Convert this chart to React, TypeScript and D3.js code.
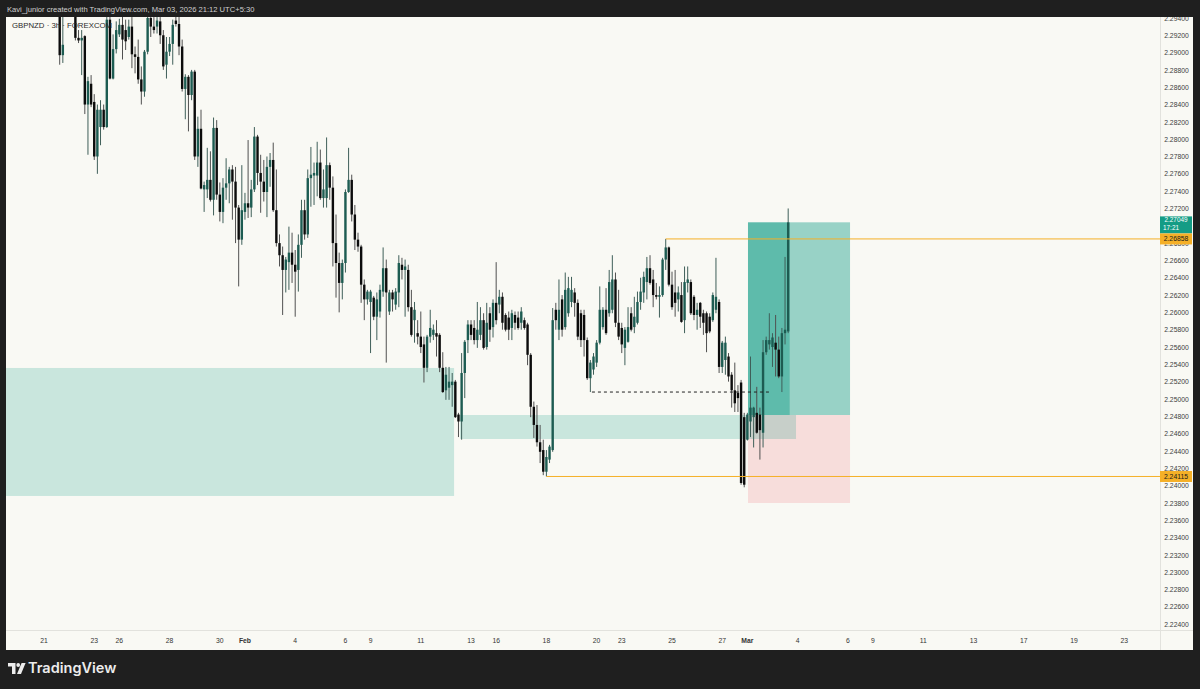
import React from 'react';
import * as d3 from 'd3';

// ---- data ----
const FIRST_BAR = 5; // bar index of the first candle (bar 0 = Jan 21 session open)

const opens = [
  2.2974, 2.2898, 2.2950, 2.2974, 2.2985, 2.2968, 2.2918, 2.2915, 2.2920, 2.2841,
  2.2865, 2.2844, 2.2781, 2.2815, 2.2835, 2.2815, 2.2939, 2.2871, 2.2905, 2.2922,
  2.2933, 2.2927, 2.2919, 2.2931, 2.2899, 2.2896, 2.2870, 2.2856, 2.2902, 2.2941,
  2.2931, 2.2931, 2.2937, 2.2921, 2.2887, 2.2902, 2.2911, 2.2938, 2.2934, 2.2908,
  2.2859, 2.2873, 2.2852, 2.2879, 2.2781, 2.2813, 2.2743, 2.2743, 2.2754, 2.2731,
  2.2814, 2.2737, 2.2717, 2.2745, 2.2750, 2.2766, 2.2752, 2.2722, 2.2685, 2.2717,
  2.2727, 2.2722, 2.2743, 2.2804, 2.2762, 2.2752, 2.2740, 2.2769, 2.2777, 2.2719,
  2.2681, 2.2667, 2.2650, 2.2659, 2.2670, 2.2656, 2.2650, 2.2679, 2.2719, 2.2691,
  2.2756, 2.2759, 2.2759, 2.2774, 2.2733, 2.2733, 2.2771, 2.2745, 2.2681, 2.2658,
  2.2635, 2.2658, 2.2740, 2.2754, 2.2714, 2.2685, 2.2677, 2.2633, 2.2616, 2.2613,
  2.2618, 2.2596, 2.2602, 2.2625, 2.2652, 2.2602, 2.2624, 2.2610, 2.2624, 2.2656,
  2.2650, 2.2650, 2.2607, 2.2592, 2.2577, 2.2573, 2.2564, 2.2537, 2.2573, 2.2575,
  2.2577, 2.2575, 2.2537, 2.2511, 2.2514, 2.2517, 2.2521, 2.2483, 2.2475, 2.2531,
  2.2569, 2.2587, 2.2583, 2.2569, 2.2575, 2.2592, 2.2561, 2.2600, 2.2584, 2.2612,
  2.2610, 2.2619, 2.2598, 2.2595, 2.2583, 2.2598, 2.2595, 2.2589, 2.2592, 2.2587,
  2.2552, 2.2492, 2.2471, 2.2451, 2.2442, 2.2417, 2.2431, 2.2442, 2.2604, 2.2581,
  2.2616, 2.2584, 2.2600, 2.2613, 2.2624, 2.2612, 2.2600, 2.2598, 2.2569, 2.2525,
  2.2535, 2.2543, 2.2566, 2.2584, 2.2604, 2.2600, 2.2604, 2.2639, 2.2589, 2.2583,
  2.2560, 2.2567, 2.2600, 2.2584, 2.2589, 2.2613, 2.2624, 2.2636, 2.2652, 2.2639,
  2.2621, 2.2619, 2.2621, 2.2662, 2.2676, 2.2633, 2.2624, 2.2616, 2.2621, 2.2592,
  2.2635, 2.2636, 2.2619, 2.2598, 2.2612, 2.2600, 2.2600, 2.2596, 2.2592, 2.2604,
  2.2613, 2.2538, 2.2546, 2.2550, 2.2529, 2.2511, 2.2508, 2.2520, 2.2480, 2.2454,
  2.2475, 2.2480, 2.2485, 2.2483, 2.2462, 2.2555, 2.2564, 2.2561, 2.2566, 2.2558,
  2.2527, 2.2577, 2.2579,
];

const highs = [
  2.2985, 2.2962, 2.2985, 2.2997, 2.2997, 2.2974, 2.2927, 2.2927, 2.2921, 2.2873,
  2.2875, 2.2853, 2.2841, 2.2846, 2.2841, 2.2944, 2.2950, 2.2922, 2.2937, 2.2940,
  2.2945, 2.2939, 2.2939, 2.2942, 2.2908, 2.2916, 2.2885, 2.2904, 2.2948, 2.2950,
  2.2942, 2.2942, 2.2942, 2.2927, 2.2919, 2.2919, 2.2939, 2.2945, 2.2942, 2.2916,
  2.2876, 2.2875, 2.2881, 2.2881, 2.2827, 2.2835, 2.2752, 2.2791, 2.2787, 2.2826,
  2.2823, 2.2751, 2.2756, 2.2779, 2.2769, 2.2771, 2.2769, 2.2725, 2.2771, 2.2739,
  2.2800, 2.2754, 2.2815, 2.2806, 2.2783, 2.2777, 2.2781, 2.2785, 2.2797, 2.2766,
  2.2691, 2.2677, 2.2665, 2.2700, 2.2693, 2.2673, 2.2691, 2.2731, 2.2731, 2.2766,
  2.2792, 2.2774, 2.2798, 2.2789, 2.2766, 2.2803, 2.2774, 2.2758, 2.2714, 2.2670,
  2.2662, 2.2743, 2.2791, 2.2760, 2.2725, 2.2693, 2.2679, 2.2639, 2.2627, 2.2627,
  2.2620, 2.2624, 2.2633, 2.2676, 2.2662, 2.2627, 2.2627, 2.2629, 2.2667, 2.2664,
  2.2662, 2.2656, 2.2627, 2.2613, 2.2592, 2.2602, 2.2573, 2.2575, 2.2604, 2.2587,
  2.2592, 2.2577, 2.2555, 2.2538, 2.2538, 2.2531, 2.2523, 2.2485, 2.2554, 2.2569,
  2.2592, 2.2592, 2.2592, 2.2613, 2.2607, 2.2600, 2.2612, 2.2607, 2.2616, 2.2659,
  2.2627, 2.2624, 2.2600, 2.2602, 2.2604, 2.2602, 2.2602, 2.2607, 2.2595, 2.2589,
  2.2554, 2.2498, 2.2494, 2.2471, 2.2454, 2.2442, 2.2448, 2.2606, 2.2612, 2.2639,
  2.2621, 2.2647, 2.2642, 2.2642, 2.2629, 2.2616, 2.2604, 2.2604, 2.2572, 2.2546,
  2.2554, 2.2569, 2.2631, 2.2607, 2.2629, 2.2650, 2.2667, 2.2647, 2.2627, 2.2589,
  2.2584, 2.2607, 2.2607, 2.2619, 2.2625, 2.2641, 2.2648, 2.2665, 2.2667, 2.2650,
  2.2635, 2.2631, 2.2664, 2.26858, 2.2677, 2.2648, 2.2650, 2.2631, 2.2636, 2.2654,
  2.2654, 2.2639, 2.2621, 2.2612, 2.2613, 2.2604, 2.2602, 2.2600, 2.2624, 2.2664,
  2.2616, 2.2568, 2.2573, 2.2554, 2.2532, 2.2543, 2.2517, 2.2523, 2.2485, 2.2485,
  2.2550, 2.2492, 2.2515, 2.2491, 2.2569, 2.2573, 2.2600, 2.2577, 2.2598, 2.2573,
  2.2583, 2.2665, 2.2721,
];

const lows = [
  2.2887, 2.2889, 2.2948, 2.2956, 2.2950, 2.2915, 2.2912, 2.2875, 2.2830, 2.2783,
  2.2838, 2.2777, 2.2761, 2.2794, 2.2812, 2.2814, 2.2870, 2.2870, 2.2900, 2.2919,
  2.2893, 2.2904, 2.2916, 2.2883, 2.2877, 2.2865, 2.2841, 2.2850, 2.2899, 2.2919,
  2.2923, 2.2923, 2.2911, 2.2881, 2.2871, 2.2897, 2.2887, 2.2931, 2.2898, 2.2856,
  2.2824, 2.2810, 2.2846, 2.2777, 2.2769, 2.2743, 2.2717, 2.2733, 2.2729, 2.2713,
  2.2731, 2.2706, 2.2704, 2.2731, 2.2727, 2.2708, 2.2681, 2.2631, 2.2679, 2.2708,
  2.2710, 2.2711, 2.2740, 2.2748, 2.2716, 2.2729, 2.2711, 2.2746, 2.2717, 2.2677,
  2.2654, 2.2598, 2.2624, 2.2627, 2.2635, 2.2596, 2.2625, 2.2664, 2.2685, 2.2687,
  2.2723, 2.2725, 2.2735, 2.2731, 2.2722, 2.2722, 2.2731, 2.2654, 2.2618, 2.2601,
  2.2616, 2.2647, 2.2739, 2.2706, 2.2673, 2.2671, 2.2612, 2.2592, 2.2610, 2.2554,
  2.2592, 2.2569, 2.2595, 2.2619, 2.2543, 2.2598, 2.2602, 2.2604, 2.2607, 2.2639,
  2.2596, 2.2602, 2.2573, 2.2566, 2.2564, 2.2554, 2.2520, 2.2532, 2.2566, 2.2569,
  2.2550, 2.2532, 2.2508, 2.2500, 2.2500, 2.2492, 2.2479, 2.2457, 2.2454, 2.2502,
  2.2554, 2.2569, 2.2564, 2.2560, 2.2569, 2.2558, 2.2558, 2.2567, 2.2572, 2.2587,
  2.2600, 2.2581, 2.2579, 2.2569, 2.2569, 2.2581, 2.2581, 2.2581, 2.2581, 2.2540,
  2.2480, 2.2456, 2.2446, 2.2427, 2.2413, 2.24115, 2.2427, 2.2440, 2.2581, 2.2569,
  2.2573, 2.2581, 2.2596, 2.2607, 2.2596, 2.2569, 2.2561, 2.2550, 2.2523, 2.2509,
  2.2529, 2.2538, 2.2564, 2.2581, 2.2575, 2.2596, 2.2600, 2.2584, 2.2569, 2.2554,
  2.2540, 2.2566, 2.2579, 2.2577, 2.2587, 2.2604, 2.2612, 2.2616, 2.2633, 2.2607,
  2.2616, 2.2595, 2.2619, 2.2650, 2.2631, 2.2604, 2.2596, 2.2602, 2.2589, 2.2577,
  2.2624, 2.2598, 2.2592, 2.2581, 2.2583, 2.2575, 2.2555, 2.2577, 2.2590, 2.2600,
  2.2531, 2.2531, 2.2529, 2.2521, 2.2491, 2.2486, 2.2486, 2.2402, 2.2399, 2.2453,
  2.2457, 2.2445, 2.2461, 2.2431, 2.2445, 2.2552, 2.2558, 2.2538, 2.2527, 2.2525,
  2.2509, 2.2564, 2.2577,
];

const closes = [
  2.2898, 2.2910, 2.2974, 2.2985, 2.2968, 2.2918, 2.2915, 2.2918, 2.2841, 2.2868,
  2.2841, 2.2781, 2.2835, 2.2835, 2.2815, 2.2939, 2.2871, 2.2905, 2.2927, 2.2933,
  2.2916, 2.2914, 2.2931, 2.2899, 2.2896, 2.2870, 2.2856, 2.2902, 2.2941, 2.2931,
  2.2927, 2.2938, 2.2921, 2.2885, 2.2902, 2.2911, 2.2933, 2.2934, 2.2908, 2.2859,
  2.2873, 2.2852, 2.2879, 2.2781, 2.2813, 2.2744, 2.2748, 2.2754, 2.2731, 2.2814,
  2.2737, 2.2717, 2.2745, 2.2750, 2.2766, 2.2752, 2.2722, 2.2685, 2.2719, 2.2727,
  2.2722, 2.2743, 2.2804, 2.2762, 2.2752, 2.2740, 2.2769, 2.2777, 2.2719, 2.2681,
  2.2667, 2.2650, 2.2662, 2.2670, 2.2656, 2.2648, 2.2679, 2.2719, 2.2691, 2.2756,
  2.2760, 2.2762, 2.2774, 2.2733, 2.2743, 2.2771, 2.2745, 2.2681, 2.2658, 2.2635,
  2.2658, 2.2740, 2.2754, 2.2714, 2.2685, 2.2677, 2.2633, 2.2616, 2.2625, 2.2625,
  2.2596, 2.2616, 2.2627, 2.2652, 2.2624, 2.2624, 2.2616, 2.2625, 2.2658, 2.2650,
  2.2654, 2.2607, 2.2575, 2.2604, 2.2573, 2.2561, 2.2537, 2.2573, 2.2583, 2.2581,
  2.2573, 2.2537, 2.2509, 2.2529, 2.2521, 2.2521, 2.2480, 2.2475, 2.2531, 2.2567,
  2.2587, 2.2575, 2.2569, 2.2581, 2.2592, 2.2560, 2.2589, 2.2581, 2.2612, 2.2592,
  2.2619, 2.2589, 2.2581, 2.2581, 2.2600, 2.2589, 2.2583, 2.2602, 2.2583, 2.2552,
  2.2492, 2.2471, 2.2451, 2.2440, 2.2417, 2.2434, 2.2446, 2.2592, 2.2592, 2.2604,
  2.2581, 2.2627, 2.2629, 2.2627, 2.2612, 2.2573, 2.2569, 2.2569, 2.2525, 2.2543,
  2.2550, 2.2566, 2.2604, 2.2604, 2.2577, 2.2636, 2.2639, 2.2589, 2.2573, 2.2564,
  2.2581, 2.2584, 2.2581, 2.2596, 2.2613, 2.2625, 2.2642, 2.2652, 2.2635, 2.2621,
  2.2619, 2.2621, 2.2662, 2.2676, 2.2633, 2.2607, 2.2612, 2.2624, 2.2590, 2.2636,
  2.2639, 2.2600, 2.2598, 2.2604, 2.2596, 2.2589, 2.2577, 2.2579, 2.2621, 2.2619,
  2.2538, 2.2566, 2.2566, 2.2527, 2.2511, 2.2496, 2.2502, 2.2404, 2.2402, 2.2483,
  2.2491, 2.2491, 2.2462, 2.2465, 2.2555, 2.2569, 2.2569, 2.2572, 2.2558, 2.2527,
  2.2577, 2.2581, 2.27049,
];

const priceTicks = [
  2.224, 2.226, 2.228, 2.23, 2.232, 2.234, 2.236, 2.238, 2.24, 2.242, 2.244, 2.246,
  2.248, 2.25, 2.252, 2.254, 2.256, 2.258, 2.26, 2.262, 2.264, 2.266, 2.268, 2.27,
  2.272, 2.274, 2.276, 2.278, 2.28, 2.282, 2.284, 2.286, 2.288, 2.29, 2.292, 2.294,
];

const dayLabels = ['21', '23', '26', '28', '30', 'Feb', '4', '6', '9', '11', '13', '16', '18', '20',
  '23', '25', '27', 'Mar', '4', '6', '9', '11', '13', '17', '19', '23'];
const dayBars = [0, 16, 24, 40, 56, 64, 80, 96, 104, 120, 136, 144, 160, 176,
  184, 200, 216, 224, 240, 256, 264, 280, 296, 312, 328, 344];
const monthLabels = ['Feb', 'Mar'];

// drawings (price levels / bar ranges)
const demandZoneA = [2.25368, 2.2389];     // top, bottom
const demandZoneABars = [-20, 130.6];
const demandZoneB = [2.24825, 2.24548];
const demandZoneBBars = [132.5, 239.5];
const positionLevels = [2.2705, 2.24825, 2.23809]; // target, entry, stop
const positionBars = [224.2, 256.7];
const lastPrice = 2.27049;
const countdown = '17:21';
const highLevel = 2.26858;
const highLevelBar = 198;
const lowLevel = 2.24115;
const lowLevelBar = 160;
const sweepLevel = 2.2509;
const sweepBars = [174.5, 231];

const headerText = 'Kavi_junior created with TradingView.com, Mar 03, 2026 21:12 UTC+5:30';
const symbolText = 'GBPNZD · 3h · FOREXCOM';

export default function App() {
  const W = 1200, H = 689;
  const panel = { left: 6, right: 1193, top: 17, bottom: 650 };
  const plot = { left: 6, right: 1160, top: 17, bottom: 630 };

  const y = d3.scaleLinear().domain([2.224, 2.294]).range([625, 625 - 35 * 17.32]);
  const x = d3.scaleLinear().domain([0, 344]).range([44, 44 + 3.14 * 344]);

  const teal = '#089981';
  const upBody = '#1d5c52';
  const downBody = '#0c0c0c';
  const wick = '#505050';
  const orange = '#f5b027';
  const font = "'Liberation Sans', Arial, sans-serif";

  const candles = opens.map((o, k) => ({
    bar: FIRST_BAR + k, o, h: highs[k], l: lows[k], c: closes[k],
  }));
  const lastBar = FIRST_BAR + opens.length - 1;

  const [tgt, entry, stop] = positionLevels;
  const entryBar = positionBars[0];
  const ly = y(lastPrice);
  const lastBox = { top: ly - 6, bottom: ly + 11 };
  // axis labels fully covered by the last-price badge are not shown
  const visibleTicks = priceTicks.filter((p) => !(y(p) > lastBox.top && y(p) < lastBox.bottom));

  return (
    <svg width={W} height={H} style={{ position: 'absolute', left: 0, top: 0, display: 'block' }}
      fontFamily={font}>
      <defs>
        <clipPath id="plotClip">
          <rect x={plot.left} y={plot.top} width={plot.right - plot.left} height={plot.bottom - plot.top} />
        </clipPath>
        <clipPath id="axisClip">
          <rect x={plot.right} y={plot.top} width={panel.right - plot.right} height={plot.bottom - plot.top} />
        </clipPath>
      </defs>
      <rect x={0} y={0} width={W} height={H} fill="#1f1f1f" />
      <text x={7} y={11.5} fontSize={7.6} fill="#cfcfcf">{headerText}</text>
      <rect x={panel.left} y={panel.top} width={panel.right - panel.left} height={panel.bottom - panel.top} fill="#f9f9f4" />

      <g clipPath="url(#plotClip)">
        {/* demand zones */}
        <rect x={plot.left} y={y(demandZoneA[0])}
          width={x(demandZoneABars[1]) - plot.left}
          height={y(demandZoneA[1]) - y(demandZoneA[0])}
          fill={teal} fillOpacity={0.2} />
        {/* position tool */}
        <rect x={x(positionBars[0])} y={y(tgt)} width={x(positionBars[1]) - x(positionBars[0])}
          height={y(entry) - y(tgt)} fill={teal} fillOpacity={0.4} />
        <rect x={x(positionBars[0])} y={y(entry)} width={x(positionBars[1]) - x(positionBars[0])}
          height={y(stop) - y(entry)} fill="#f23645" fillOpacity={0.14} />
        <rect x={x(entryBar)} y={y(Math.min(lastPrice, tgt))}
          width={x(lastBar) + 1.5 - x(entryBar)}
          height={y(entry) - y(Math.min(lastPrice, tgt))} fill={teal} fillOpacity={0.4} />
        <rect x={x(demandZoneBBars[0])} y={y(demandZoneB[0])}
          width={x(demandZoneBBars[1]) - x(demandZoneBBars[0])}
          height={y(demandZoneB[1]) - y(demandZoneB[0])}
          fill={teal} fillOpacity={0.2} />

        {/* candles */}
        {candles.map((d) => {
          const cx = x(d.bar);
          const up = d.c >= d.o;
          const top = y(Math.max(d.o, d.c));
          const bot = y(Math.min(d.o, d.c));
          return (
            <g key={d.bar}>
              <line x1={cx} x2={cx} y1={y(d.h)} y2={y(d.l)} stroke={up ? '#3f5f59' : wick} strokeWidth={1} />
              <rect x={cx - 1.2} y={top} width={2.4} height={Math.max(1, bot - top)}
                fill={up ? upBody : downBody} />
            </g>
          );
        })}

        {/* levels */}
        <line x1={x(highLevelBar)} x2={plot.right} y1={y(highLevel)} y2={y(highLevel)} stroke={orange} strokeWidth={1} />
        <line x1={x(lowLevelBar)} x2={plot.right} y1={y(lowLevel)} y2={y(lowLevel)} stroke={orange} strokeWidth={1} />
        <line x1={x(sweepBars[0])} x2={x(sweepBars[1])} y1={y(sweepLevel)} y2={y(sweepLevel)}
          stroke="#222" strokeWidth={1} strokeDasharray="3,3" />
      </g>

      <text x={12} y={26} fontSize={7.8} fill="#2a2a2a" dominantBaseline="middle">{symbolText}</text>

      {/* axes separators */}
      <line x1={plot.right + 0.5} x2={plot.right + 0.5} y1={panel.top} y2={panel.bottom} stroke="#e2e2dd" />
      <line x1={panel.left} x2={panel.right} y1={plot.bottom + 0.5} y2={plot.bottom + 0.5} stroke="#e2e2dd" />

      {/* price axis */}
      <g clipPath="url(#axisClip)">
        {visibleTicks.map((p) => (
          <text key={p} x={1176.5} y={y(p)} fontSize={6.8} fill="#3c3c3c" textAnchor="middle" dominantBaseline="middle">
            {p.toFixed(5)}
          </text>
        ))}
        <rect x={plot.right} y={lastBox.top} width={32} height={lastBox.bottom - lastBox.top} fill="#149c85" />
        <text x={1176} y={ly - 1.8} fontSize={6.4} fill="#ffffff" textAnchor="middle" dominantBaseline="middle">
          {lastPrice.toFixed(5)}
        </text>
        <text x={1163} y={ly + 6.2} fontSize={6.4} fill="#ffffff" textAnchor="start" dominantBaseline="middle">
          {countdown}
        </text>
        {[highLevel, lowLevel].map((p) => (
          <g key={p}>
            <rect x={plot.right} y={y(p) - 5.5} width={32} height={11} fill={orange} />
            <text x={1176} y={y(p) + 0.5} fontSize={6.8} fill="#1a1a1a" textAnchor="middle" dominantBaseline="middle">
              {p.toFixed(5)}
            </text>
          </g>
        ))}
      </g>

      {/* time axis */}
      {dayLabels.map((t, i) => (
        <text key={i} x={x(dayBars[i])} y={641} fontSize={6.8} fill="#333"
          fontWeight={monthLabels.includes(t) ? 'bold' : 'normal'}
          textAnchor="middle" dominantBaseline="middle">{t}</text>
      ))}

      {/* TradingView footer logo */}
      <g fill="#ececec">
        <path d="M8,663 H15.5 V674 H12 V666.5 H8 Z" />
        <circle cx={18.2} cy={665} r={1.9} />
        <path d="M17,674 L21.6,663 H25.6 L21,674 Z" />
        <text x={28} y={669} fontSize={14.5} fontWeight={600} dominantBaseline="middle"
          fontFamily="Inter, 'Open Sans', Arial, sans-serif">TradingView</text>
      </g>
    </svg>
  );
}
